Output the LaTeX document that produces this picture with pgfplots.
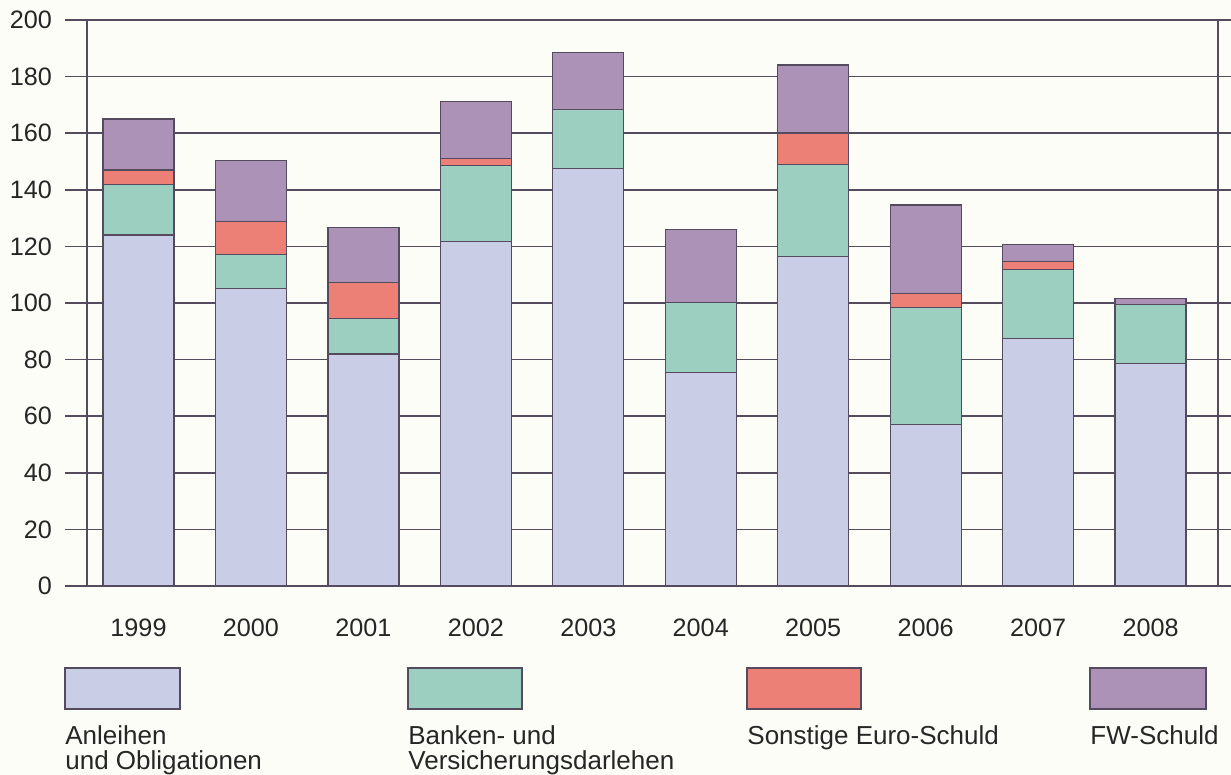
\documentclass[border=0pt]{standalone}
\usepackage{fontspec}
\setmainfont{Liberation Sans}
\usepackage{pgfplots}
\pgfplotsset{compat=1.18}
\definecolor{PaperBg}{RGB}{253,253,248}
\definecolor{AnlBlue}{RGB}{201,206,230}
\definecolor{BankTeal}{RGB}{156,207,192}
\definecolor{EuroRed}{RGB}{236,128,118}
\definecolor{FWPurple}{RGB}{172,146,182}
\definecolor{LineDark}{RGB}{85,75,95}

\begin{document}
\begin{tikzpicture}
  \fill[PaperBg] (0,0) rectangle (615.5pt,387.5pt);
  \useasboundingbox (0,0) rectangle (615.5pt,387.5pt);

  \begin{axis}[
      at={(43.5pt,94.5pt)}, anchor=south west,
      scale only axis,
      width=565.5pt, height=283pt,
      ybar stacked,
      bar width=35.5pt,
      xmin=-0.458, xmax=9.60,
      ymin=0, ymax=200,
      ytick={0,20,...,200},
      xtick=data,
      xticklabels={1999,2000,2001,2002,2003,2004,2005,2006,2007,2008},
      major x tick style={draw=none},
      tick align=outside,
      major tick length=11pt,
      ymajorgrids,
      grid style={LineDark, line width=0.8pt},
      axis line style={LineDark, line width=0.8pt},
      y tick style={LineDark, line width=0.8pt},
      tick label style={font=\fontsize{12.6}{14}\selectfont, text=black!85},
      yticklabel style={xshift=-3pt},
      xticklabel style={yshift=-1.7pt},
      /pgf/number format/assume math mode=true,
      every axis plot/.append style={draw=LineDark, line width=0.6pt},
    ]
    % Anleihen und Obligationen
    \addplot[fill=AnlBlue] coordinates {
      (0,124.0) (1,105.2) (2,82.0) (3,121.8) (4,147.5)
      (5,75.3) (6,116.4) (7,57.2) (8,87.4) (9,78.7)
    };
    % Banken- und Versicherungsdarlehen
    \addplot[fill=BankTeal] coordinates {
      (0,18.0) (1,11.8) (2,12.6) (3,26.7) (4,20.8)
      (5,24.9) (6,32.4) (7,41.1) (8,24.3) (9,20.7)
    };
    % Sonstige Euro-Schuld
    \addplot[fill=EuroRed] coordinates {
      (0,5.0) (1,11.9) (2,12.7) (3,2.6) (4,0)
      (5,0) (6,11.3) (7,5.0) (8,2.9) (9,0)
    };
    % FW-Schuld
    \addplot[fill=FWPurple] coordinates {
      (0,18.0) (1,21.5) (2,19.3) (3,20.0) (4,20.3)
      (5,25.8) (6,24.0) (7,31.3) (8,6.1) (9,2.3)
    };
  \end{axis}

  % legend below the chart
  \begin{scope}[every node/.style={anchor=north west, align=left, inner sep=0pt,
      font=\fontsize{13}{12.8}\selectfont, text=black!85}]
    \draw[LineDark, line width=0.6pt, fill=AnlBlue]   (32.5pt,33pt)  rectangle (90pt,53.5pt);
    \draw[LineDark, line width=0.6pt, fill=BankTeal]  (204pt,33pt)   rectangle (261pt,53.5pt);
    \draw[LineDark, line width=0.6pt, fill=EuroRed]   (373.5pt,33pt) rectangle (430.5pt,53.5pt);
    \draw[LineDark, line width=0.6pt, fill=FWPurple]  (545pt,33pt)   rectangle (603pt,53.5pt);
    \node at (32.5pt,25pt)  {Anleihen\\und Obligationen};
    \node at (204pt,25pt)   {Banken- und\\Versicherungsdarlehen};
    \node at (373.5pt,25pt) {Sonstige Euro-Schuld};
    \node at (545pt,25pt)   {FW-Schuld};
  \end{scope}
\end{tikzpicture}
\end{document}
